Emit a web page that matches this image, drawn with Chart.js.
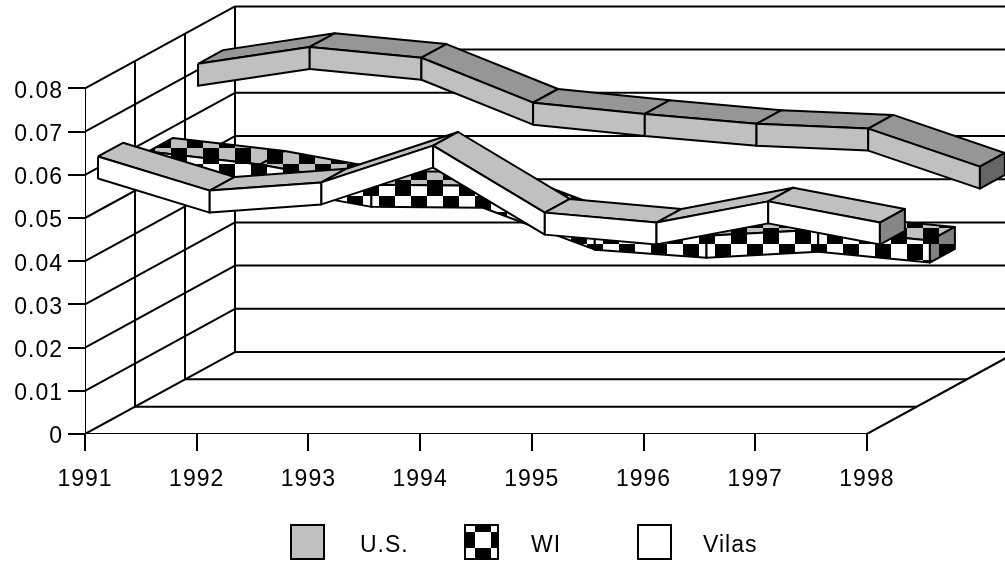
<!DOCTYPE html>
<html>
<head>
<meta charset="utf-8">
<title>U.S., WI and Vilas 1991-1998</title>
<script src="https://cdn.jsdelivr.net/npm/chart.js@4/dist/chart.umd.min.js"></script>
<style>
  html, body { margin: 0; padding: 0; background: #fff; }
  canvas { display: block; }
</style>
</head>
<body>
<canvas id="lineChart" width="1005" height="561"></canvas>
<script>
// values
const categories = ['1991', '1992', '1993', '1994', '1995', '1996', '1997', '1998'];
const yTickLabels = ['0', '0.01', '0.02', '0.03', '0.04', '0.05', '0.06', '0.07', '0.08'];
const seriesNames = ['U.S.', 'WI', 'Vilas'];
const usValues = [0.0714, 0.0753, 0.0728, 0.0624, 0.0598, 0.0575, 0.0564, 0.0476];
const wiValues = [0.0574, 0.0544, 0.0497, 0.0495, 0.0398, 0.0379, 0.0393, 0.0368];
const vilasValues = [0.0626, 0.0547, 0.0566, 0.0651, 0.0496, 0.0473, 0.0522, 0.0473];

// fake 3d: one depth row expressed in axis units
const depthX = 50 / 111.7;
const depthY = 27.33 / 4320;
const ribbonFront = 0.26;
const ribbonBack = 0.76;
const ribbonHeight = 22 / 4320;
const wallRows = 3;

function project(i, v, d) {
    return { x: i + d * depthX, y: v + d * depthY };
}

// 16px checker, lined up with the page like the old Excel fill
function checker(light) {
    const tile = document.createElement('canvas');
    tile.width = 32;
    tile.height = 32;
    const c = tile.getContext('2d');
    c.fillStyle = light;
    c.fillRect(0, 0, 32, 32);
    c.fillStyle = '#000';
    c.fillRect(0, 0, 16, 16);
    c.fillRect(16, 16, 16, 16);
    const pattern = c.createPattern(tile, 'repeat');
    pattern.setTransform(new DOMMatrix().translate(11, 20));
    return pattern;
}

const datasets = [];
function addLine(points) {
    datasets.push({
        data: points,
        showLine: true,
        pointRadius: 0,
        borderColor: '#000',
        borderWidth: 2,
        fill: false
    });
}
function addFace(points, color) {
    datasets.push({
        data: points.concat([points[0]]),
        showLine: true,
        pointRadius: 0,
        borderColor: '#000',
        borderWidth: 2,
        borderJoinStyle: 'round',
        backgroundColor: color,
        fill: 'shape'
    });
}

// walls and floor
const lastCat = categories.length - 1;
yTickLabels.forEach((t, k) => {
    const v = k / 100;
    addLine([project(0, v, 0), project(0, v, wallRows)]);
    addLine([project(0, v, wallRows), project(lastCat + 1, v, wallRows)]);
});
for (let d = 0; d <= wallRows; d++) {
    addLine([project(0, 0, d), project(0, 0.08, d)]);
    addLine([project(0, 0, d), project(lastCat, 0, d)]);
}
addLine([project(lastCat, 0, 0), project(lastCat, 0, wallRows)]);

// one ribbon per series, back row first
function addRibbon(values, row, colors) {
    const front = row + ribbonFront;
    const back = row + ribbonBack;
    for (let i = 0; i < lastCat; i++) {
        addFace([
            project(i, values[i], front),
            project(i + 1, values[i + 1], front),
            project(i + 1, values[i + 1], back),
            project(i, values[i], back)
        ], colors.top);
    }
    for (let i = 0; i < lastCat; i++) {
        const a = project(i, values[i], front);
        const b = project(i + 1, values[i + 1], front);
        addFace([a, b, { x: b.x, y: b.y - ribbonHeight }, { x: a.x, y: a.y - ribbonHeight }], colors.front);
    }
    const f = project(lastCat, values[lastCat], front);
    const r = project(lastCat, values[lastCat], back);
    addFace([f, r, { x: r.x, y: r.y - ribbonHeight }, { x: f.x, y: f.y - ribbonHeight }], colors.cap);
}
addRibbon(usValues, 2, { top: '#969696', front: '#c0c0c0', cap: '#666666' });
addRibbon(wiValues, 1, { top: checker('#c0c0c0'), front: checker('#ffffff'), cap: checker('#808080') });
addRibbon(vilasValues, 0, { top: '#c0c0c0', front: '#ffffff', cap: '#868686' });

// later datasets paint over earlier ones
datasets.forEach((ds, idx) => { ds.order = datasets.length - idx; });

const legendFills = ['#c0c0c0', checker('#ffffff'), '#ffffff'];
const legendBoxX = [291, 465, 638];
const legendTextX = [360, 531, 703];

const boxLegend = {
    id: 'boxLegend',
    beforeDraw(chart) {
        chart.ctx.letterSpacing = '1px';
    },
    afterDraw(chart) {
        const ctx = chart.ctx;
        ctx.save();
        ctx.font = '23px "Liberation Sans"';
        ctx.textBaseline = 'middle';
        seriesNames.forEach((name, k) => {
            ctx.fillStyle = legendFills[k];
            ctx.strokeStyle = '#000';
            ctx.lineWidth = 2;
            ctx.fillRect(legendBoxX[k], 525, 33, 34);
            ctx.strokeRect(legendBoxX[k], 525, 33, 34);
            ctx.fillStyle = '#000';
            ctx.fillText(name, legendTextX[k], 546);
        });
        ctx.restore();
    }
};

new Chart('lineChart', {
    type: 'scatter',
    data: { datasets: datasets },
    plugins: [boxLegend],
    options: {
        responsive: false,
        animation: false,
        events: [],
        layout: { padding: { top: 5 } },
        plugins: { legend: { display: false }, tooltip: { enabled: false } },
        scales: {
            x: {
                type: 'linear',
                min: 0,
                max: 920 / 111.7,
                afterFit: (s) => { s.height = 127; s.paddingLeft = 0; s.paddingRight = 0; },
                afterBuildTicks: (s) => { s.ticks = categories.map((c, i) => ({ value: i })); },
                border: { display: false },
                grid: { drawOnChartArea: false, tickLength: 17, lineWidth: 2, tickColor: '#000' },
                ticks: {
                    autoSkip: false,
                    maxRotation: 0,
                    padding: 15,
                    color: '#000',
                    font: { family: 'Liberation Sans', size: 23 },
                    callback: (v, i) => categories[i]
                }
            },
            y: {
                min: 0,
                max: 429 / 4320,
                afterFit: (s) => { s.width = 85; s.paddingTop = 0; s.paddingBottom = 0; },
                afterBuildTicks: (s) => { s.ticks = yTickLabels.map((t, k) => ({ value: k / 100 })); },
                border: { display: false },
                grid: { drawOnChartArea: false, tickLength: 17, lineWidth: 2, tickColor: '#000' },
                ticks: {
                    padding: 5,
                    labelOffset: 3,
                    color: '#000',
                    font: { family: 'Liberation Sans', size: 23 },
                    callback: (v, i) => yTickLabels[i]
                }
            }
        }
    }
});
</script>
</body>
</html>
